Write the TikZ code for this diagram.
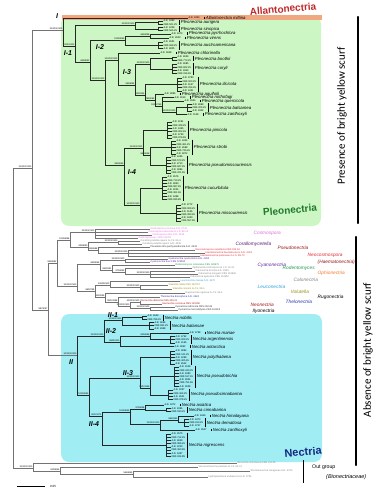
\documentclass[tikz,border=0pt]{standalone}
\usepackage{fontspec}
\setmainfont{Liberation Sans}
\newfontfamily\calfont{Carlito}
\usetikzlibrary{positioning}
\definecolor{pleogreen}{RGB}{204,246,196}
\definecolor{nectcyan}{RGB}{160,238,244}
\definecolor{allanband}{RGB}{240,168,128}
\definecolor{allanred}{RGB}{190,40,40}
\definecolor{pleodark}{RGB}{30,120,40}
\definecolor{nectblue}{RGB}{20,40,130}
\definecolor{cosmopink}{RGB}{225,110,215}
\definecolor{coralpurple}{RGB}{90,30,110}
\definecolor{pseudored}{RGB}{150,20,20}
\definecolor{neored}{RGB}{225,40,50}
\definecolor{cyanopurple}{RGB}{90,40,160}
\definecolor{rodgreen}{RGB}{30,150,80}
\definecolor{ophorange}{RGB}{240,120,40}
\definecolor{calgray}{RGB}{130,130,130}
\definecolor{leublue}{RGB}{40,160,220}
\definecolor{vololive}{RGB}{150,140,20}
\definecolor{thelblue}{RGB}{40,50,170}
\definecolor{neonred}{RGB}{170,20,20}

\tikzset{
  branch/.style={line width=0.5pt, draw=black!85},
  mbranch/.style={line width=0.5pt, draw=black!55},
  leaflbl/.style={anchor=west, inner sep=0.3pt, font=\fontsize{2.5}{3}\selectfont},
  bs/.style={anchor=south east, inner sep=0.3pt, font=\fontsize{2.3}{2.6}\selectfont},
  sbar/.style={line width=0.6pt},
  spname/.style={anchor=west, inner sep=0.5pt, font=\fontsize{4.3}{5}\selectfont\itshape},
  genus/.style={anchor=west, inner sep=0.5pt, font=\fontsize{4.8}{5.5}\selectfont\itshape},
  clade/.style={inner sep=0.5pt, font=\fontsize{7}{7}\selectfont\bfseries\itshape},
  biglbl/.style={inner sep=0pt, rotate=5, font=\fontsize{10}{10}\selectfont\bfseries},
  scurf/.style={inner sep=0pt, rotate=90, font=\calfont\fontsize{11}{11}\selectfont},
  scurfbar/.style={line width=2.2pt, line cap=round},
}

\newcommand{\leafsep}{3.2}
% species comb: name, first y, leaves, bar x, species
\newcommand{\grp}[5]{%
  \pgfmathsetmacro\gend{#2+(#3-1)*\leafsep}
  \pgfmathsetmacro\gmid{(#2+\gend)/2}
  \coordinate (#1) at (#4-21,\gmid);
  \foreach \k in {1,...,#3}{
    \pgfmathsetmacro\ly{#2+(\k-1)*\leafsep}
    \pgfmathtruncatemacro\lc{mod(\k*137+#2*7,900)+100}
    \node[leaflbl] (#1-\k) at (#4-16,\ly) {\ifodd\k\relax A.R. 4\lc\else CBS \lc.\k5\fi};
    \draw[branch] (#1) |- (#1-\k.west);
  }
  \draw[sbar] (#4,#2-1.3) -- (#4,\gend+1.3);
  \node[spname] (#1-sp) at (#4+1.2,\gmid) {#5};
}
% internal node with support values
\newcommand{\inode}[4]{\coordinate (#1) at (#2,#3); \node[bs] (#1-bs) at (#1) {#4};}
\newcommand{\mleaf}[5]{\node[leaflbl, text=#4] (#1) at (#2,#3) {#5};}

\begin{document}
\begin{tikzpicture}[x=1pt,y=-1pt]
\useasboundingbox (0,0) rectangle (386,500);

% clade boxes
\fill[pleogreen, rounded corners=8pt] (61,16) rectangle (321,226);
\fill[allanband] (62,15) rectangle (322,20.5);
\fill[nectcyan, rounded corners=8pt] (61,314) rectangle (322,462);

% clade I: Allantonectria + Pleonectria
\grp{am}{18}{1}{204}{Allantonectria miltina}
\grp{aur}{21}{2}{179}{Pleonectria aurigera}
\grp{sin}{27.4}{2}{179}{Pleonectria sinopica}
\grp{pyr}{33.8}{1}{187}{Pleonectria pyrrhochlora}
\grp{vir}{38}{1}{185}{Pleonectria virens}
\grp{aus}{42}{3}{179}{Pleonectria austroamericana}
\grp{chl}{53}{1}{176}{Pleonectria chlorinella}
\grp{boo}{57}{2}{193}{Pleonectria boothii}
\grp{cor}{64}{4}{193}{Pleonectria coryli}
\grp{ili}{78}{5}{198}{Pleonectria ilicicola}
\grp{aqu}{94}{1}{180}{Pleonectria aquifolii}
\grp{not}{97.5}{1}{190}{Pleonectria nothofagi}
\grp{que}{101}{1}{200}{Pleonectria quercicola}
\grp{bal}{104.5}{3}{208}{Pleonectria balsamea}
\grp{zan}{114.5}{1}{203}{Pleonectria zanthoxyli}
\grp{pin}{122}{6}{188}{Pleonectria pinicola}
\grp{str}{141}{5}{192}{Pleonectria strobi}
\grp{pse}{157}{6}{187}{Pleonectria pseudomissouriensis}
\grp{cuc}{177}{8}{183}{Pleonectria cucurbitula}
\grp{mis}{205}{6}{197}{Pleonectria missouriensis}

\inode{CI}{63}{30}{100/100/100}
\inode{A1}{75}{46}{100/91/100}
\inode{I1}{135}{25}{100/100/100}
\inode{A2}{90}{62}{84/88/92}
\inode{I2}{125}{40}{100/99/99}
\inode{I2a}{150}{36}{96/99/98}
\inode{A3}{105}{80}{100/100/100}
\inode{I3}{118}{60}{100/100/100}
\inode{I3a}{135}{85}{99/98/99}
\inode{I3b}{150}{64}{100/100/100}
\inode{I3c}{145}{95}{92/90/95}
\inode{I3d}{155}{100}{78/81/85}
\inode{I3e}{162}{106}{100/97/99}
\inode{I3f}{176}{112}{100/100/100}
\inode{I4}{124}{165}{99/95/99}
\inode{I4a}{143}{148}{100/100/100}
\inode{I4c}{150}{155}{96/94/98}
\inode{I4b}{140}{205}{100/100/100}

\foreach \p/\c in {CI/am, CI/A1, A1/I1, A1/A2, I1/aur, I1/sin, A2/I2, A2/A3,
    I2/I2a, I2/aus, I2a/pyr, I2a/vir, A3/I3, A3/I4, I3/chl, I3/I3a,
    I3a/I3b, I3a/I3c, I3b/boo, I3b/cor, I3c/ili, I3c/I3d, I3d/aqu, I3d/I3e,
    I3e/not, I3e/que, I3e/I3f, I3f/bal, I3f/zan, I4/I4a, I4/I4b,
    I4a/pin, I4a/I4c, I4c/str, I4c/pse, I4b/cuc, I4b/mis}
  \draw[branch] (\p) |- (\c);

% other genera
\mleaf{c1}{150}{229}{cosmopink}{Cosmospora coccinea A.R. 2741}
\mleaf{c2}{148}{232}{cosmopink}{Cosmospora viliuscula G.J.S. 83-12}
\mleaf{c3}{152}{235}{cosmopink}{Cosmospora vilior A.R. 4215}
\mleaf{c4}{138}{238}{cosmopink}{Cosmospora sp. CBS 118.93}
\mleaf{co1}{140}{241}{calgray}{Corallomycetella repens G.J.S. 84-4}
\mleaf{co2}{142}{244}{calgray}{Corallomycetella repens A.R. 4236}
\mleaf{ps1}{150}{247}{black!80}{Pseudonectria pachysandricola A.R. 4543}
\mleaf{ne1}{195}{250}{neored}{Neocosmospora vasinfecta CBS 325.54}
\mleaf{ne2}{205}{253}{neored}{Haematonectria haematococca A.R. 4153}
\mleaf{ne3}{200}{256}{neored}{Haematonectria ipomoeae G.J.S. 89-70}
\mleaf{cy1}{168}{259}{cyanopurple}{Cyanonectria cyanostoma A.R. 4300}
\mleaf{cy2}{150}{262}{cyanopurple}{Cyanonectria buxi CBS 125550}
\mleaf{ro1}{175}{265}{rodgreen}{Rodentomyces reticulatus CBS 128675}
\mleaf{op1}{192}{268}{calgray}{Ophionectria trichospora G.J.S. 01-21}
\mleaf{ca1}{195}{271}{calgray}{Calonectria ilicicola A.R. 2649}
\mleaf{ca2}{198}{274}{calgray}{Calonectria morganii CBS 110666}
\mleaf{ca3}{190}{277}{calgray}{Calonectria kyotensis CBS 114550}
\mleaf{le1}{180}{281}{leublue}{Leuconectria clusiae A.R. 4470}
\mleaf{vo1}{168}{285}{vololive}{Volutella ciliata CBS 102797}
\mleaf{vo2}{172}{289}{vololive}{Volutella consors G.J.S. 96-1}
\mleaf{ru1}{185}{293}{calgray}{Rugonectria rugulosa G.J.S. 06-4}
\mleaf{th1}{160}{297}{thelblue}{Thelonectria discophora A.R. 4324}
\mleaf{nn1}{140}{301}{neonred}{Neonectria ditissima CBS 226.31}
\mleaf{nn2}{162}{304}{neonred}{Neonectria coccinea CBS 119158}
\mleaf{il1}{175}{307}{black!80}{Ilyonectria radicicola CBS 264.65}
\mleaf{il2}{178}{310}{black!80}{Ilyonectria macrodidyma CBS 112615}

\inode{M1}{57}{263}{94/99/82}
\inode{MA}{70}{240}{100/98/98}
\inode{MA1}{95}{232}{100/100/100}
\inode{MA2}{88}{247}{92/88/90}
\inode{Cor}{118}{242.5}{100/100/100}
\inode{MA3}{98}{250}{81/85/88}
\inode{Neo}{128}{253}{100/100/100}
\inode{MB}{77}{286}{100/100/100}
\inode{MB1}{100}{264}{94/94/96}
\inode{Cy}{125}{260.5}{100/100/100}
\inode{MB3}{112}{270}{85/90/91}
\inode{MB4}{125}{272.5}{97/99/99}
\inode{Cal}{150}{274}{100/100/100}
\inode{MB2}{95}{291}{96/97/98}
\inode{MB5}{110}{285}{100/99/100}
\inode{Vol}{140}{287}{100/100/100}
\inode{MB6}{105}{297}{90/93/95}
\inode{MB7}{118}{302}{99/100/99}
\inode{MB8}{130}{306}{100/100/100}
\inode{Neo2}{140}{302.5}{100/100/100}
\inode{Ily}{150}{308.5}{100/100/100}

\foreach \p/\c in {M1/MA, M1/MB, MA/MA1, MA/MA2, MA1/c1, MA1/c2, MA1/c3, MA1/c4,
    MA2/Cor, MA2/MA3, Cor/co1, Cor/co2, MA3/ps1, MA3/Neo, Neo/ne1, Neo/ne2, Neo/ne3,
    MB/MB1, MB/MB2, MB1/Cy, MB1/MB3, Cy/cy1, Cy/cy2, MB3/ro1, MB3/MB4, MB4/op1, MB4/Cal,
    Cal/ca1, Cal/ca2, Cal/ca3, MB2/MB5, MB2/MB6, MB5/le1, MB5/Vol, Vol/vo1, Vol/vo2,
    MB6/ru1, MB6/MB7, MB7/th1, MB7/MB8, MB8/Neo2, MB8/Ily, Neo2/nn1, Neo2/nn2, Ily/il1, Ily/il2}
  \draw[mbranch] (\p) |- (\c);

% clade II: Nectria
\grp{nob}{316}{2}{163}{Nectria nobilis}
\grp{bla}{322.5}{3}{170}{Nectria balansae}
\grp{mar}{333}{1}{205}{Nectria mariae}
\grp{arg}{336.5}{3}{191}{Nectria argentinensis}
\grp{ant}{346.5}{1}{190}{Nectria antarctica}
\grp{pol}{351}{5}{191}{Nectria polythalama}
\grp{pst}{367}{7}{195}{Nectria pseudotrichia}
\grp{psc}{390}{4}{189}{Nectria pseudocinnabarina}
\grp{asi}{405}{1}{180}{Nectria asiatica}
\grp{cin}{408.5}{2}{187}{Nectria cinnabarina}
\grp{him}{416}{1}{210}{Nectria himalayana}
\grp{dem}{419.5}{3}{205}{Nectria dematiosa}
\grp{zax}{430}{1}{211}{Nectria zanthoxyli}
\grp{nig}{434}{8}{187}{Nectria nigrescens}

\inode{NII}{77}{355}{100/100/100}
\inode{NB}{104}{336}{100/100/100}
\inode{N1}{122}{320}{100/100/100}
\inode{N2}{120}{342}{98/99/100}
\inode{N2a}{150}{336}{92/95/96}
\inode{NA}{89}{395}{100/99/95}
\inode{N3}{140}{378}{100/100/100}
\inode{N3a}{150}{388}{99/100/99}
\inode{N4}{102}{416}{90/100/71}
\inode{N4a}{130}{412}{100/98/99}
\inode{N4b}{145}{409}{97/96/98}
\inode{N4c}{160}{424}{100/100/100}
\inode{N4d}{178}{420}{88/90/93}

\foreach \p/\c in {NII/NB, NII/NA, NB/N1, NB/N2, N1/nob, N1/bla, N2/N2a, N2/ant,
    N2a/mar, N2a/arg, NA/N3, NA/N4, N3/pol, N3/N3a, N3a/pst, N3a/psc,
    N4/N4a, N4/nig, N4a/N4b, N4a/N4c, N4b/asi, N4b/cin, N4c/N4d, N4c/zax, N4d/him, N4d/dem}
  \draw[branch] (\p) |- (\c);

% out group
\mleaf{o1}{237}{463}{calgray}{Bionectria ochroleuca CBS 114.05}
\mleaf{o2}{198}{467}{calgray}{Verrucostoma freycinetiae G.J.S. 84-11}
\mleaf{o3}{250}{471}{calgray}{Stromatonectria caraganae A.R. 4375}
\mleaf{o4}{208}{477}{calgray}{Hydropisphaera erubescens A.R. 2795}
\inode{OG}{33}{468}{100/100/100}
\inode{OG2}{60}{471}{50/98/55}
\inode{OG3}{133}{474}{56/68/65}

% backbone
\coordinate (R0) at (13,318);
\inode{IN}{32}{168}{100/100/100}
\inode{CR}{48}{310}{98/74/97}
\foreach \p/\c in {R0/IN, R0/OG, IN/CI, IN/CR, CR/M1, CR/NII,
    OG/o1, OG/OG2, OG2/o2, OG2/OG3, OG3/o3, OG3/o4}
  \draw[mbranch] (\p) |- (\c);

% clade labels
\node[clade] (cI) at (57,16) {I};
\node[clade] (cI1) at (68,53) {I-1};
\node[clade] (cI2) at (100,47) {I-2};
\node[clade] (cI3) at (127,72) {I-3};
\node[clade] (cI4) at (132,172) {I-4};
\node[clade] (cII) at (71,362) {II};
\node[clade] (cII1) at (113,315) {II-1};
\node[clade] (cII2) at (111,331) {II-2};
\node[clade] (cII3) at (128,373) {II-3};
\node[clade] (cII4) at (94,424) {II-4};

% genus labels
\node[biglbl, text=allanred] (allan) at (283,9) {Allantonectria};
\node[biglbl, text=pleodark] (pleo) at (290,210) {Pleonectria};
\node[biglbl, text=nectblue, font=\fontsize{11}{11}\selectfont\bfseries] (nect) at (303,452) {Nectria};
\node[genus, text=cosmopink] (gcos) at (253,233) {Cosmospora};
\node[genus, text=coralpurple] (gcor) at (235,244) {Corallomycetella};
\node[genus, text=pseudored] (gpse) at (277,248) {Pseudonectria};
\node[genus, text=neored] (gneo) at (307,255) {Neocosmospora};
\node[genus, text=pseudored] (ghae) at (317,262) {(Haematonectria)};
\node[genus, text=cyanopurple] (gcya) at (257,265) {Cyanonectria};
\node[genus, text=rodgreen] (grod) at (282,268) {Rodentomyces};
\node[genus, text=ophorange] (goph) at (317,273) {Ophionectria};
\node[genus, text=calgray] (gcal) at (293,280) {Calonectria};
\node[genus, text=leublue] (gleu) at (257,287) {Leuconectria};
\node[genus, text=vololive] (gvol) at (290,292) {Volutella};
\node[genus] (grug) at (317,297) {Rugonectria};
\node[genus, text=thelblue] (gthe) at (285,302) {Thelonectria};
\node[genus, text=neonred] (gnen) at (250,305) {Neonectria};
\node[genus] (gily) at (252,311) {Ilyonectria};

% out group bracket
\draw[line width=1pt] (303,460) -- (303,483);
\node[anchor=west, inner sep=0pt, font=\fontsize{5.2}{6}\selectfont] (og) at (312,467) {Out group};
\node[anchor=west, inner sep=0pt, font=\fontsize{5.5}{6}\selectfont\itshape] (bion) at (326,477) {(Bionectriaceae)};

% scurf
\draw[scurfbar] (358,17) -- (358,223);
\draw[scurfbar] (356,237) -- (356,465);
\node[scurf] (pres) at (342,116) {Presence of bright yellow scurf};
\node[scurf] (abs) at (368,350) {Absence of bright yellow scurf};

% scale
\draw[line width=0.6pt] (17,486) -- (45,486);
\node[anchor=west, inner sep=0pt, font=\fontsize{3}{3}\selectfont] (scl) at (50,486) {0.05};
\end{tikzpicture}
\end{document}
